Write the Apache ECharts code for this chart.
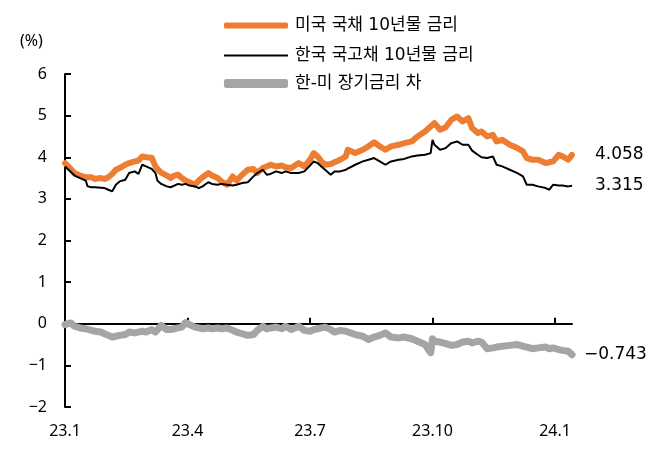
<!DOCTYPE html>
<html><head><meta charset="utf-8">
<script src="https://cdn.jsdelivr.net/npm/echarts@6/dist/echarts.min.js"></script>
<style>html,body{margin:0;padding:0;background:#fff}#c{width:671px;height:463px}</style>
</head><body><div id="c"></div>
<script>
// business-day index (0 = 2023-01-02) of each reading
const sampleIdx = [0,3,5,8,11,12,14,16,19,21,23,25,27,29,32,34,37,39,41,43,46,48,49,51,54,56,58,60,62,64,66,
69,71,73,76,78,81,83,86,89,91,94,97,100,102,105,107,109,112,115,117,120,124,127,130,132,134,
136,138,141,143,146,149,150,154,158,161,164,167,170,173,177,180,184,187,191,194,195,196,199,202,
205,208,211,214,216,219,221,224,227,229,232,236,240,243,245,248,251,255,257,259,262,264,267,269];
const usRate = [3.86,3.72,3.62,3.56,3.52,3.50,3.52,3.48,3.50,3.48,3.52,3.60,3.70,3.74,3.82,3.86,3.90,3.92,4.02,4.00,3.99,3.78,3.72,3.63,3.56,3.50,3.56,3.58,3.50,3.44,3.40,
3.34,3.44,3.52,3.62,3.56,3.50,3.42,3.34,3.54,3.44,3.58,3.70,3.72,3.62,3.74,3.78,3.82,3.78,3.80,3.76,3.74,3.86,3.78,3.94,4.10,4.02,
3.90,3.82,3.84,3.88,3.94,4.02,4.18,4.10,4.18,4.26,4.36,4.26,4.18,4.26,4.30,4.34,4.38,4.50,4.62,4.74,4.78,4.82,4.66,4.72,
4.90,4.98,4.86,4.94,4.70,4.58,4.62,4.50,4.54,4.38,4.42,4.30,4.22,4.14,3.98,3.94,3.94,3.86,3.88,3.90,4.06,4.02,3.94,4.058];
const krRate = [3.78,3.65,3.56,3.50,3.44,3.30,3.28,3.28,3.27,3.26,3.22,3.18,3.34,3.42,3.46,3.62,3.66,3.60,3.82,3.78,3.72,3.62,3.44,3.36,3.30,3.28,3.32,3.36,3.34,3.36,3.32,
3.30,3.26,3.30,3.40,3.36,3.34,3.36,3.34,3.32,3.34,3.38,3.40,3.54,3.62,3.70,3.58,3.60,3.66,3.62,3.66,3.62,3.62,3.66,3.80,3.90,3.86,
3.78,3.70,3.58,3.66,3.66,3.70,3.74,3.82,3.90,3.94,3.98,3.90,3.82,3.90,3.94,3.96,4.02,4.04,4.06,4.10,4.42,4.30,4.18,4.22,
4.34,4.38,4.30,4.30,4.16,4.06,4.00,3.98,4.02,3.82,3.78,3.70,3.62,3.54,3.34,3.34,3.30,3.26,3.22,3.34,3.32,3.32,3.30,3.315];
const spread = [-0.02,0.02,-0.06,-0.10,-0.12,-0.14,-0.16,-0.18,-0.20,-0.24,-0.28,-0.32,-0.30,-0.28,-0.26,-0.20,-0.22,-0.20,-0.18,-0.20,-0.14,-0.20,-0.18,-0.04,-0.14,-0.14,-0.12,-0.10,-0.08,0.03,-0.02,
-0.08,-0.10,-0.12,-0.10,-0.12,-0.10,-0.12,-0.10,-0.16,-0.20,-0.24,-0.28,-0.26,-0.16,-0.06,-0.12,-0.10,-0.08,-0.12,-0.06,-0.14,-0.06,-0.16,-0.18,-0.14,-0.12,
-0.10,-0.08,-0.14,-0.20,-0.16,-0.18,-0.16,-0.26,-0.30,-0.38,-0.32,-0.28,-0.22,-0.32,-0.34,-0.32,-0.36,-0.42,-0.50,-0.70,-0.36,-0.42,-0.44,-0.48,
-0.52,-0.50,-0.44,-0.42,-0.46,-0.42,-0.44,-0.60,-0.58,-0.56,-0.54,-0.52,-0.50,-0.54,-0.56,-0.60,-0.58,-0.56,-0.60,-0.58,-0.62,-0.64,-0.66,-0.743];
const seriesNames = ['미국 국채 10년물 금리','한국 국고채 10년물 금리','한-미 장기금리 차'];
const endTexts = ['4.058','3.315','−0.743'];
const tickLabels = ['23.1','23.4','23.7','23.10','24.1'];
const totalDays = 270;

// category list of weekdays from 2023-01-02
const cats = [];
{ let d = new Date(Date.UTC(2023,0,2));
  while (cats.length < totalDays) {
    const wd = d.getUTCDay();
    if (wd !== 0 && wd !== 6) cats.push(d.toISOString().slice(0,10));
    d = new Date(d.getTime() + 86400000);
  } }
const toData = vals => sampleIdx.map((ix,k) => [cats[ix], vals[k]]);
const FONT = '"Noto Sans", "Noto Sans CJK KR", sans-serif';
const LFONT = '"DejaVu Sans", "Noto Sans CJK KR", sans-serif';
const COLORS = ['#ED7D31','#000000','#A5A5A5'];
const mkLegend = (i, top, h, icon) => ({
  orient:'vertical', left:219, top:top, itemWidth:64, itemHeight:h, icon:icon, itemGap:0,
  textStyle:{fontSize:17,color:'#000',fontFamily:LFONT, padding:[0,0,0,2]},
  data:[seriesNames[i]]
});
const chart = echarts.init(document.getElementById('c'), null, {renderer:'canvas'});
chart.setOption({
  animation:false,
  textStyle:{fontFamily:FONT},
  grid:{left:65,right:99,top:74,bottom:56,containLabel:false},
  legend:[mkLegend(0,12,6,'roundRect'), mkLegend(1,42,2,'rect'), mkLegend(2,70,9,'roundRect')],
  graphic:[{type:'text',left:20,top:33,style:{text:'(%)',fontSize:16,fill:'#000',fontFamily:FONT}}],
  xAxis:[
    {type:'category',data:cats,boundaryGap:false,position:'bottom',
     axisLine:{show:false,onZero:false},axisTick:{show:false},splitLine:{show:false},
     axisLabel:{interval:(i)=>i%65===0,margin:16,fontSize:16,color:'#000',fontFamily:FONT,
       formatter:(v,i)=>tickLabels[Math.round(i/65)]||''}},
    {type:'category',data:cats,boundaryGap:false,position:'bottom',
     axisLine:{show:true,onZero:true,lineStyle:{color:'#000',width:2}},
     axisTick:{show:true,inside:true,length:6,interval:(i)=>i%65===0,lineStyle:{color:'#000',width:2}},
     axisLabel:{show:false},splitLine:{show:false}}
  ],
  yAxis:{type:'value',min:-2,max:6,interval:1,
    axisLine:{show:true,lineStyle:{color:'#000',width:2}},
    axisTick:{show:true,inside:true,length:6,lineStyle:{color:'#000',width:2}},
    splitLine:{show:false},
    axisLabel:{margin:18,fontSize:16,color:'#000',fontFamily:FONT,formatter:v=>v<0?'−'+Math.abs(v):String(v)}},
  series:[
    {name:seriesNames[0],type:'line',symbol:'none',data:toData(usRate),z:3,
     lineStyle:{color:COLORS[0],width:6,cap:'round',join:'round'},itemStyle:{color:COLORS[0]},
     endLabel:{show:true,distance:23,formatter:()=>endTexts[0],fontSize:17,color:'#000',fontFamily:LFONT}},
    {name:seriesNames[1],type:'line',symbol:'none',data:toData(krRate),z:4,
     lineStyle:{color:COLORS[1],width:2},itemStyle:{color:COLORS[1]},
     endLabel:{show:true,distance:23,formatter:()=>endTexts[1],fontSize:17,color:'#000',fontFamily:LFONT}},
    {name:seriesNames[2],type:'line',symbol:'none',data:toData(spread),z:2,
     lineStyle:{color:COLORS[2],width:7,cap:'round',join:'round'},itemStyle:{color:COLORS[2]},
     endLabel:{show:true,distance:12,formatter:()=>endTexts[2],fontSize:17,color:'#000',fontFamily:LFONT}}
  ]
});
</script></body></html>
